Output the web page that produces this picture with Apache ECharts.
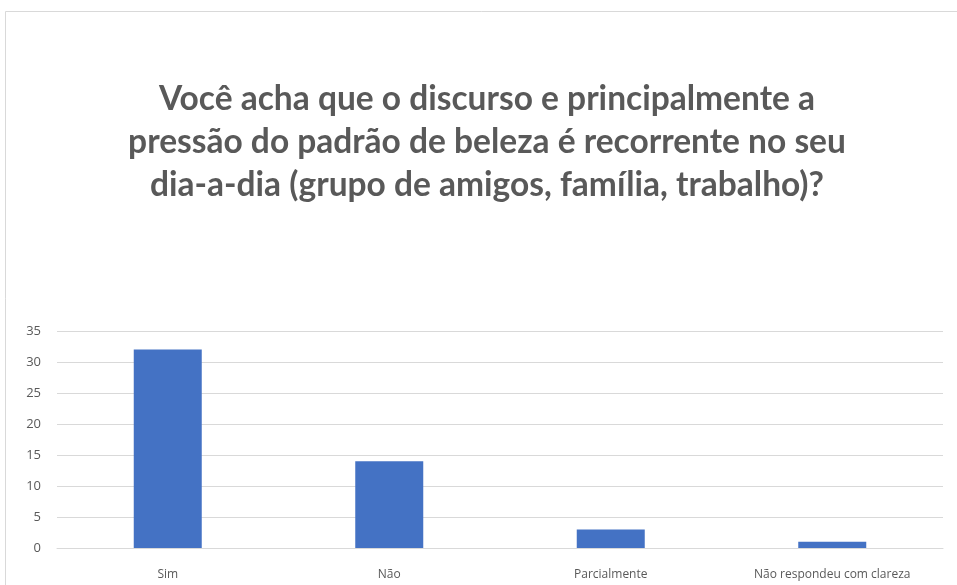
<!DOCTYPE html>
<html>
<head>
<meta charset="utf-8">
<script src="https://cdn.jsdelivr.net/npm/echarts@6/dist/echarts.min.js"></script>
<style>
  html, body { margin: 0; padding: 0; background: #ffffff; }
  #chart { width: 957px; height: 585px; }
</style>
</head>
<body>
<div id="chart"></div>
<script>
// Survey answers and their counts
const categories = ['Sim', 'Não', 'Parcialmente', 'Não respondeu com clareza'];
const counts = [32, 14, 3, 1];
const yTicks = [0, 5, 10, 15, 20, 25, 30, 35];
const titleText = 'Você acha que o discurso e principalmente a\npressão do padrão de beleza é recorrente no seu\ndia-a-dia (grupo de amigos, família, trabalho)?';

const chart = echarts.init(document.getElementById('chart'));
chart.setOption({
  backgroundColor: '#ffffff',
  animation: false,
  graphic: [{
    type: 'rect',
    shape: { x: 5.5, y: 11.5, width: 1000, height: 1000 },
    style: { fill: 'none', stroke: '#d9d9d9', lineWidth: 1 },
    silent: true
  }],
  title: {
    text: titleText,
    left: 482,
    top: 73,
    textAlign: 'center',
    textStyle: {
      fontFamily: 'Lato',
      fontWeight: 'bold',
      fontSize: 33.5,
      lineHeight: 43,
      color: '#595959'
    }
  },
  grid: { left: 57, right: 14, top: 331, bottom: 37 },
  xAxis: {
    type: 'category',
    data: categories,
    axisLine: { lineStyle: { color: '#d9d9d9' } },
    axisTick: { show: false },
    axisLabel: { color: '#595959', fontSize: 12, fontFamily: 'Open Sans', margin: 21 }
  },
  yAxis: {
    type: 'value',
    min: yTicks[0],
    max: yTicks[yTicks.length - 1],
    interval: yTicks[1] - yTicks[0],
    axisLine: { show: false },
    axisTick: { show: false },
    splitLine: { lineStyle: { color: '#d9d9d9', width: 1 } },
    axisLabel: { color: '#595959', fontSize: 13, fontFamily: 'Open Sans', margin: 16 }
  },
  series: [{
    type: 'bar',
    data: counts,
    barWidth: 68,
    itemStyle: { color: '#4472c4' }
  }]
});
</script>
</body>
</html>
